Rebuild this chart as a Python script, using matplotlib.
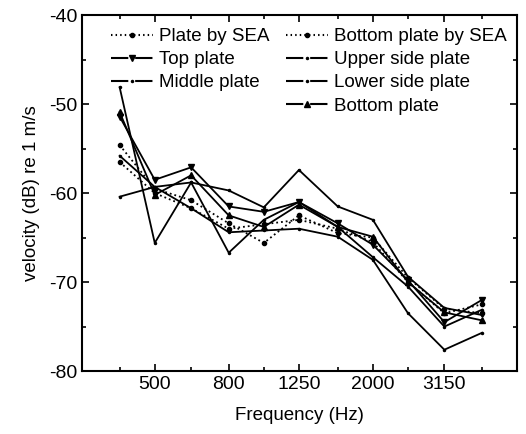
import matplotlib
matplotlib.use('Agg')
import matplotlib.pyplot as plt
from matplotlib.lines import Line2D
from matplotlib.ticker import FixedLocator, NullFormatter

plt.rcParams['font.family'] = ['Liberation Sans', 'DejaVu Sans']
plt.rcParams['axes.unicode_minus'] = False

freqs = [400, 500, 630, 800, 1000, 1250, 1600, 2000, 2500, 3150, 4000]
tick_labels = ['500', '800', '1250', '2000', '3150']
tick_freqs = [500, 800, 1250, 2000, 3150]

plate_sea = [-54.6, -59.5, -60.8, -63.4, -65.6, -62.5, -64.5, -65.0, -69.5, -73.0, -73.5]
bottom_sea = [-56.5, -60.0, -61.7, -64.0, -63.5, -63.0, -64.0, -65.5, -70.0, -73.5, -72.5]
top_plate = [-51.4, -58.5, -57.1, -61.5, -62.1, -61.0, -63.4, -65.8, -69.8, -74.5, -72.0]
upper_side = [-60.4, -59.3, -58.8, -59.7, -61.6, -57.4, -61.5, -63.0, -69.4, -72.9, -73.7]
middle_plate = [-48.1, -65.6, -58.8, -66.7, -63.0, -61.0, -63.8, -67.2, -70.5, -75.0, -73.1]
lower_side = [-55.8, -59.3, -61.7, -64.4, -64.2, -64.0, -64.9, -67.5, -73.5, -77.6, -75.7]
bottom_plate = [-50.9, -60.2, -58.0, -62.5, -63.8, -61.3, -63.8, -64.9, -70.0, -73.4, -74.3]

fig = plt.figure(figsize=(5.26, 4.34), dpi=100)
ax = fig.add_axes([0.156, 0.145, 0.827, 0.82])

series = [
    ('Plate by SEA', plate_sea, ':', 'o', 3),
    ('Bottom plate by SEA', bottom_sea, ':', 'o', 3),
    ('Top plate', top_plate, '-', 'v', 4),
    ('Upper side plate', upper_side, '-', '.', 3),
    ('Middle plate', middle_plate, '-', '.', 3),
    ('Lower side plate', lower_side, '-', '.', 3),
    ('Bottom plate', bottom_plate, '-', '^', 4),
]

handles = {}
for name, vals, ls, mk, ms in series:
    ax.plot(freqs, vals, color='black', linestyle=ls, linewidth=1.3,
            marker=mk, markersize=ms)
    # legend sample: dash, marker, dash (dots for SEA); dashes scale with lw
    hls = (0, (0.7, 1.5)) if ls == ':' else (0, (8.3, 3.3))
    handles[name] = Line2D([], [], color='black', linestyle=hls, linewidth=1.5,
                           marker=mk, markersize=ms)

blank = Line2D([], [], color='none')
order = ['Plate by SEA', 'Top plate', 'Middle plate', None,
         'Bottom plate by SEA', 'Upper side plate', 'Lower side plate', 'Bottom plate']
leg_handles = [handles[n] if n else blank for n in order]
leg_labels = [n if n else '' for n in order]
ax.legend(leg_handles, leg_labels, ncol=2, frameon=False, loc='upper left',
          bbox_to_anchor=(0.05, 0.985), fontsize=13.5, handlelength=2.2,
          handletextpad=0.35, columnspacing=0.9, labelspacing=0.32,
          borderaxespad=0.0)

ax.set_xscale('log')
ax.set_xlim(315, 5000)
ax.set_ylim(-80, -40)
ax.xaxis.set_major_locator(FixedLocator(tick_freqs))
ax.set_xticks(tick_freqs)
ax.set_xticklabels(tick_labels)
ax.xaxis.set_minor_locator(FixedLocator(freqs))
ax.xaxis.set_minor_formatter(NullFormatter())
ax.set_yticks([-40, -50, -60, -70, -80])
ax.set_yticks([-45, -55, -65, -75], minor=True)

ax.tick_params(which='both', direction='in', top=True, right=True,
               labelsize=14, width=1.2)
ax.tick_params(which='major', length=5)
ax.tick_params(which='minor', length=3)
for s in ax.spines.values():
    s.set_linewidth(1.5)

ax.set_xlabel('Frequency (Hz)', fontsize=13.5, labelpad=10)
ax.set_ylabel('velocity (dB) re 1 m/s', fontsize=13.5, labelpad=6)

fig.savefig('out.png', dpi=100)
